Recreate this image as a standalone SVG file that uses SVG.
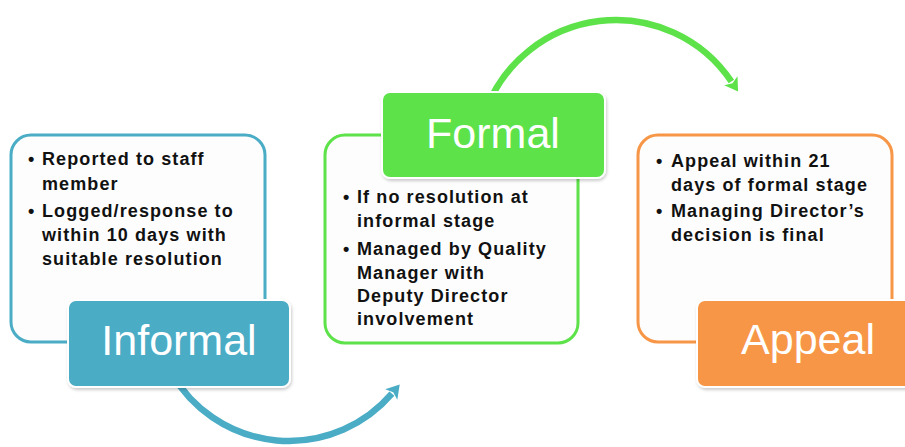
<svg xmlns="http://www.w3.org/2000/svg" width="905" height="447" viewBox="0 0 905 447">
<defs>
<style>
.body{font-family:"Liberation Sans",Arial,sans-serif;font-weight:bold;font-size:18px;letter-spacing:1.1px;fill:#111}
.lbl{font-family:"Liberation Sans",Arial,sans-serif;font-size:43px;fill:#fff;text-anchor:middle}
.outline{fill:#fdfdfd;stroke-width:3}
.tag{stroke:#fff;stroke-width:2;filter:url(#sh)}
.arc{fill:none;stroke-width:6.5}
</style>
<filter id="sh" x="-10%" y="-10%" width="120%" height="130%">
<feDropShadow dx="1" dy="2" stdDeviation="1.5" flood-color="#000" flood-opacity="0.2"/>
</filter>
<marker id="ab" markerUnits="userSpaceOnUse" markerWidth="20" markerHeight="20" refX="1" refY="8" orient="auto">
<path d="M0,0 L13,8 L0,16 L3,8 Z" fill="#4bacc6"/>
</marker>
<marker id="ag" markerUnits="userSpaceOnUse" markerWidth="20" markerHeight="20" refX="1" refY="8" orient="auto">
<path d="M0,0 L13,8 L0,16 L3,8 Z" fill="#5de24a"/>
</marker>
</defs>
<rect width="905" height="447" fill="#fff"/>
<g id="connectors">
<path class="arc" stroke="#4bacc6" d="M171.7,373.3 A135.5,135.5 0 0 0 391.9,393.7" marker-end="url(#ab)"/>
<path class="arc" stroke="#5de24a" d="M485.4,111.5 A139,139 0 0 1 731.4,81.5" marker-end="url(#ag)"/>
</g>
<g id="informal">
<rect class="outline" x="11" y="135" width="254" height="207" rx="20" stroke="#4bacc6"/>
<text class="body"><tspan x="28" y="165">•</tspan><tspan x="42" y="165">Reported to staff</tspan><tspan x="42" y="190">member</tspan><tspan x="28" y="217">•</tspan><tspan x="42" y="217">Logged/response to</tspan><tspan x="42" y="241">within 10 days with</tspan><tspan x="42" y="265">suitable resolution</tspan></text>
<rect class="tag" x="68" y="300" width="222" height="87" rx="8" fill="#4bacc6"/>
<text class="lbl" x="179" y="355">Informal</text>
</g>
<g id="formal">
<rect class="outline" x="325" y="135" width="253" height="208" rx="20" stroke="#5de24a"/>
<text class="body"><tspan x="343" y="203">•</tspan><tspan x="357" y="203">If no resolution at</tspan><tspan x="357" y="227">informal stage</tspan><tspan x="343" y="255">•</tspan><tspan x="357" y="255">Managed by Quality</tspan><tspan x="357" y="279">Manager with</tspan><tspan x="357" y="302">Deputy Director</tspan><tspan x="357" y="325">involvement</tspan></text>
<rect class="tag" x="382" y="92" width="223" height="86" rx="8" fill="#5de24a"/>
<text class="lbl" x="493" y="148">Formal</text>
</g>
<g id="appeal">
<rect class="outline" x="638" y="135" width="254" height="207" rx="20" stroke="#f79646"/>
<text class="body"><tspan x="656" y="167">•</tspan><tspan x="671" y="167">Appeal within 21</tspan><tspan x="671" y="191">days of formal stage</tspan><tspan x="656" y="217">•</tspan><tspan x="671" y="217">Managing Director’s</tspan><tspan x="671" y="241">decision is final</tspan></text>
<rect class="tag" x="697" y="300" width="222" height="87" rx="8" fill="#f79646"/>
<text class="lbl" x="808" y="354">Appeal</text>
</g>
</svg>
